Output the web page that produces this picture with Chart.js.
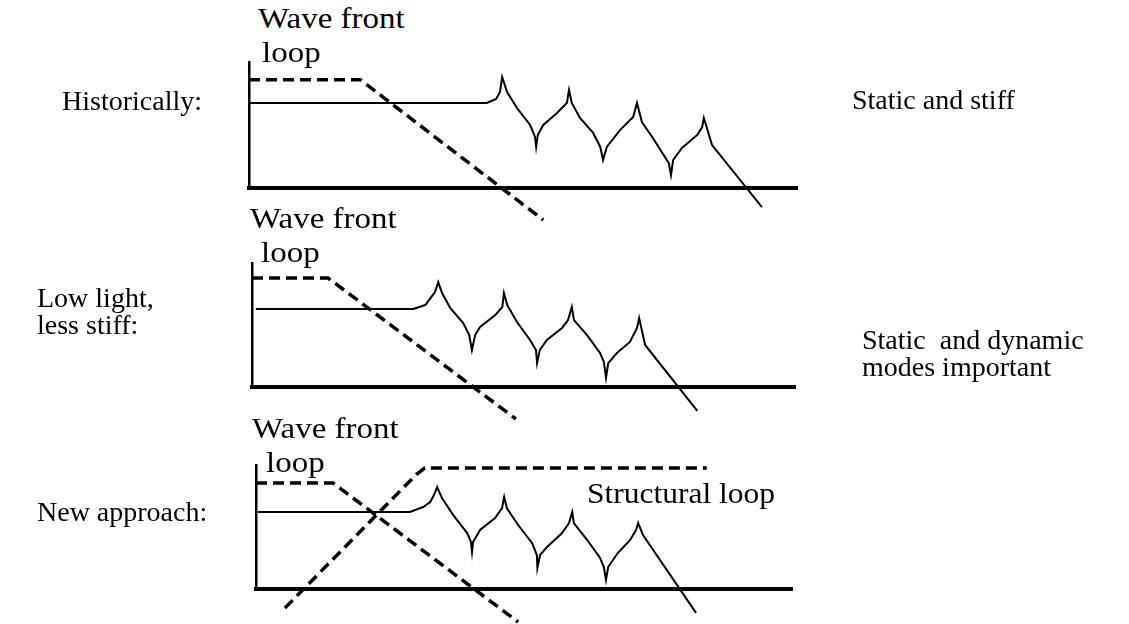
<!DOCTYPE html>
<html>
<head>
<meta charset="utf-8">
<script src="https://cdn.jsdelivr.net/npm/chart.js@4/dist/chart.umd.min.js"></script>
<style>
  body { margin: 0; background: #fff; width: 1129px; height: 624px; overflow: hidden; position: relative; }
  canvas { position: absolute; left: 0; }
  .lbl { position: absolute; font-family: "Liberation Serif", "Times New Roman", serif; font-size: 28px; line-height: 28px; color: #000; white-space: pre; z-index: 2; }
  .tag { font-size: 30px; line-height: 30px; transform: scaleX(1.1); transform-origin: 0 0; }
  .tag2 { font-size: 30px; line-height: 30px; transform: scaleX(1.05); transform-origin: 0 0; }
</style>
</head>
<body>
<canvas id="panel1" width="1129" height="200" style="top:40px"></canvas>
<canvas id="panel2" width="1129" height="200" style="top:240px"></canvas>
<canvas id="panel3" width="1129" height="184" style="top:440px"></canvas>

<div class="lbl tag" style="left:258px; top:3px">Wave front</div>
<div class="lbl tag" style="left:262px; top:37px">loop</div>
<div class="lbl tag" style="left:250px; top:203px">Wave front</div>
<div class="lbl tag" style="left:261px; top:237px">loop</div>
<div class="lbl tag" style="left:252px; top:413px">Wave front</div>
<div class="lbl tag" style="left:266px; top:447px">loop</div>
<div class="lbl tag2" style="left:587px; top:478px">Structural loop</div>

<div class="lbl" style="left:62px; top:87px">Historically:</div>
<div class="lbl" style="left:37px; top:284px">Low light,</div>
<div class="lbl" style="left:37px; top:311px">less stiff:</div>
<div class="lbl" style="left:37px; top:498px">New approach:</div>

<div class="lbl" style="left:852px; top:86px">Static and stiff</div>
<div class="lbl" style="left:862px; top:326px">Static  and dynamic</div>
<div class="lbl" style="left:862px; top:353px">modes important</div>

<script>
// axes run 0..100 on both directions

// Historically: static and stiff
var histWaveFront = [[0,86],[20.3,86],[53.7,-25.4]];
var histStructure = [[0,67.5],[43.4,67.5],[45.1,70.7],[45.8,76.2],[46.2,88.1],[47.1,76.2],[48.9,63.5],
    [51.3,50],[52.2,40.5],[52.4,32.6],[52.7,42.1],[53.7,50],[56.2,59.6],[58.0,67.5],[58.4,77.8],
    [58.9,67.5],[60.4,55.6],[62.8,43.7],[64.1,32.6],[64.6,22.2],[65.3,32.6],[67.7,46],[70.1,56.4],
    [70.8,67.5],[71.7,52.4],[73.7,39.7],[75.9,24.6],[76.6,19.9],[77.0,10.3],[77.4,22.2],[79.0,31.8],
    [81.8,42.1],[82.7,48.4],[83.0,55.6],[84.5,34.1],[93.6,-15.1]];

// Low light, less stiff
var lowWaveFront = [[0,87.9],[14.0,87.9],[48.6,-25.8]];
var lowStructure = [[0.7,62.9],[29.7,62.9],[31.9,66.1],[33.7,76.6],[34.3,84.6],[35.0,75.8],[36.5,63.7],
    [38.9,51.6],[40.0,41.9],[40.5,29.8],[41.1,41.9],[42.0,48.4],[44.8,58.0],[46.1,64.5],[46.4,75.8],
    [47.0,66.1],[48.8,52.4],[51.2,37.9],[52.3,29.8],[52.5,19.3],[53.0,29.8],[54.3,37.9],[57.1,47.6],
    [58.2,54.0],[58.9,64.5],[59.3,54.0],[61.7,41.9],[64.1,27.4],[64.8,20.2],[65.2,7.3],[65.6,19.3],
    [67.2,27.4],[69.6,36.3],[70.9,47.6],[71.3,55.6],[72.4,33.9],[82.0,-19.3]];

// New approach
var newWaveFront = [[0,85.4],[14.4,85.4],[48.9,-26.6]];
var newStructLoop = [[5.4,-15.3],[30.0,92.7],[31.5,97.5],[84.1,97.5]];
var newStructure = [[0.4,62.1],[28.7,62.1],[31.2,66.1],[32.5,70.1],[33.2,75.8],[33.8,82.2],[34.7,73.3],
    [36.8,59.6],[39.4,45.1],[40.1,37.9],[40.3,29.8],[40.5,37.9],[41.8,47.6],[44.6,57.2],[45.9,65.3],
    [46.3,74.2],[46.8,65.3],[48.9,51.6],[51.5,37.1],[52.4,27.4],[52.5,16.9],[53.0,27.4],[54.3,33.9],
    [57.1,45.1],[58.4,53.2],[59.0,62.1],[59.3,53.2],[61.8,39.5],[64.2,25.0],[64.9,17.7],[65.3,7.3],
    [65.7,17.7],[67.5,29.0],[69.8,39.5],[70.9,47.6],[71.3,53.2],[72.2,43.5],[82.1,-19.3]];

function toPoints(arr){
    var pts = [];
    for (var i = 0; i < arr.length; i++) {
        pts.push({x: arr[i][0], y: arr[i][1]});
    }
    return pts;
}

function lineSet(arr, dashed){
    return {
        data: toPoints(arr),
        showLine: true,
        borderColor: '#000',
        borderWidth: dashed ? 3.5 : 2,
        borderDash: dashed ? [11, 6] : [],
        pointRadius: 0,
        tension: 0,
        clip: false
    };
}

function drawPanel(id, pad, datasets){
    var ctx = document.getElementById(id).getContext('2d');
    return new Chart(ctx, {
        type: 'scatter',
        data: { datasets: datasets },
        options: {
            responsive: false,
            animation: false,
            events: [],
            layout: { padding: pad },
            plugins: { legend: { display: false }, tooltip: { enabled: false } },
            scales: {
                x: {
                    type: 'linear', min: 0, max: 100,
                    ticks: { display: false },
                    grid: { display: false, drawTicks: false },
                    border: { display: true, color: '#000', width: 4 }
                },
                y: {
                    type: 'linear', min: 0, max: 100,
                    ticks: { display: false },
                    grid: { display: false, drawTicks: false },
                    border: { display: true, color: '#000', width: 2.5 }
                }
            }
        }
    });
}

drawPanel('panel1', {left: 249, right: 332, top: 22, bottom: 52},
    [lineSet(histWaveFront, true), lineSet(histStructure, false)]);
drawPanel('panel2', {left: 252, right: 334, top: 23, bottom: 53},
    [lineSet(lowWaveFront, true), lineSet(lowStructure, false)]);
drawPanel('panel3', {left: 256, right: 337, top: 25, bottom: 35},
    [lineSet(newWaveFront, true), lineSet(newStructLoop, true), lineSet(newStructure, false)]);
</script>
</body>
</html>
